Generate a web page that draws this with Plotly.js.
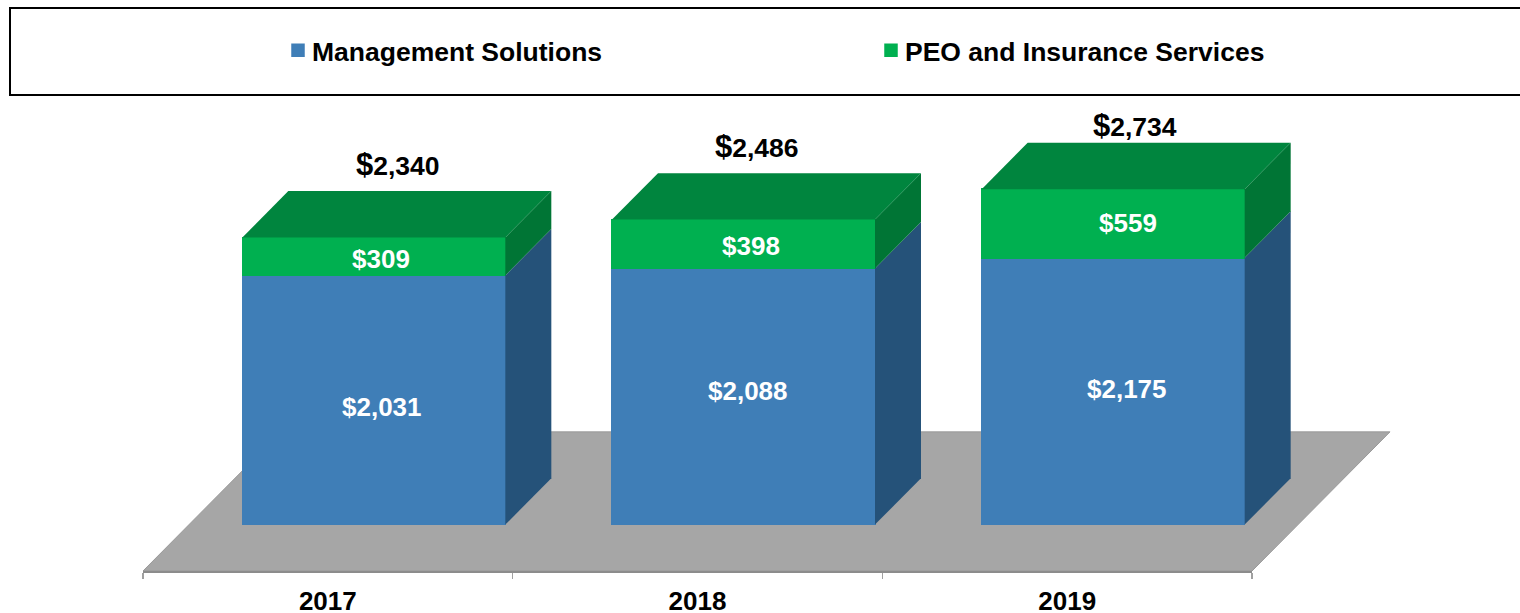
<!DOCTYPE html>
<html>
<head>
<meta charset="utf-8">
<script src="https://cdn.plot.ly/plotly-3.0.1.min.js"></script>
<style>html,body{margin:0;padding:0;background:#fff}#c{width:1520px;height:613px}</style>
</head>
<body>
<div id="c"></div>
<script>
const years = ['2017', '2018', '2019'];
const management = [2031, 2088, 2175];
const peo = [309, 398, 559];
const seriesNames = ['Management Solutions', 'PEO and Insurance Services'];
const mgmtNudge = [[8.5, 6.5], [4, -6], [13.5, -2.5]];
const peoNudge = [[7.5, 3], [7, 1.5], [14.5, -0.5]];
const totalNudge = [[24.5, -73], [13.5, -73], [22, -64]];

const W = 1520, H = 613, bottomMargin = 42;
const axisLeft = 143, axisRight = 1252;
const xUnit = (axisRight - axisLeft) / 3;
const yUnit = 0.1227;
const depthX = 46 / xUnit, depthY = 378;
const barWidth = 263 / xUnit;
const plotH = H - bottomMargin;
const xRange = [-axisLeft / xUnit, (W - axisLeft) / xUnit];
const yRange = [-depthY, plotH / yUnit - depthY];

const colors = {
  blue: '#3F7EB7', blueSide: '#255279',
  green: '#00B050', greenTop: '#00853E', greenSide: '#007535',
  floor: '#A6A6A6'
};
const fmt = v => '$' + v.toLocaleString('en-US');
const totals = management.map((v, i) => v + peo[i]);
const centers = years.map((_, i) => i + 0.5 + depthX);

function face(xs, ys, color) {
  return {x: xs, y: ys, type: 'scatter', mode: 'lines', fill: 'toself', fillcolor: color,
          line: {width: 0, color: color}, showlegend: false, hoverinfo: 'skip'};
}

const traces = [
  {type: 'bar', name: seriesNames[0], x: centers, y: management, width: barWidth,
   marker: {color: colors.blue, line: {color: colors.blue, width: 1.5}}, hoverinfo: 'skip'},
  {type: 'bar', name: seriesNames[1], x: centers, y: peo, width: barWidth,
   marker: {color: colors.green, line: {color: colors.green, width: 1.5}}, hoverinfo: 'skip'}
];
centers.forEach((c, i) => {
  const r = c + barWidth / 2, l = c - barWidth / 2;
  const m = management[i], t = totals[i];
  traces.push(face([r, r + depthX, r + depthX, r, r], [0, depthY, m + depthY, m, 0], colors.blueSide));
  traces.push(face([r, r + depthX, r + depthX, r, r], [m, m + depthY, t + depthY, t, m], colors.greenSide));
  traces.push(face([l, r, r + depthX, l + depthX, l], [t, t, t + depthY, t + depthY, t], colors.greenTop));
});
traces.push({type: 'scatter', mode: 'none', x: [0], y: [0], xaxis: 'x2', yaxis: 'y',
             showlegend: false, hoverinfo: 'skip'});

const annotations = [];
const note = (x, y, text, nudge, font) => annotations.push({
  x, y, text, xref: 'x', yref: 'y', showarrow: false, xanchor: 'center', yanchor: 'middle',
  xshift: nudge[0], yshift: -nudge[1], font
});
const whiteFont = {family: 'Liberation Sans, Arial, sans-serif', size: 26, color: '#fff', weight: 700};
const blackFont = {family: 'Liberation Sans, Arial, sans-serif', size: 26.5, color: '#000', weight: 700};
centers.forEach((c, i) => {
  note(c, management[i] / 2, '<b>' + fmt(management[i]) + '</b>', mgmtNudge[i], whiteFont);
  note(c, management[i] + peo[i] / 2, '<b>' + fmt(peo[i]) + '</b>', peoNudge[i], whiteFont);
  note(c, totals[i], '<b><span style="font-size:31px;font-weight:bold">$</span>' + fmt(totals[i]).slice(1) + '</b>', totalNudge[i], blackFont);
});

const floorPath = (() => {
  const back = 3 * depthX, yF = -depthY, yB = 2 * depthY;
  return `M 0 ${yF} L 3 ${yF} L ${3 + back} ${yB} L ${back} ${yB} Z`;
})();

const layout = {
  width: W, height: H, autosize: false,
  margin: {l: 0, r: 0, t: 0, b: bottomMargin, pad: 0, autoexpand: false},
  paper_bgcolor: '#fff', plot_bgcolor: 'rgba(0,0,0,0)',
  barmode: 'stack', bargap: 0,
  font: {family: 'Liberation Sans, Arial, sans-serif'},
  xaxis: {range: xRange, visible: false, fixedrange: true},
  xaxis2: {
    domain: [axisLeft / W, axisRight / W], range: [0, 3], anchor: 'y', fixedrange: true,
    showgrid: false, zeroline: false, showline: true, linecolor: '#8C8C8C', linewidth: 2,
    tickmode: 'array', tickvals: years.map((_, i) => i + 0.5), ticktext: years, ticks: '',
    ticklabelstandoff: 6,
    tickfont: {family: 'Liberation Sans, Arial, sans-serif', size: 26, color: '#000', weight: 700},
    minor: {tickmode: 'array', tickvals: [0, 1, 2, 3], ticks: 'outside', ticklen: 6, tickwidth: 1.5, tickcolor: '#A0A0A0', showgrid: false}
  },
  yaxis: {range: yRange, visible: false, fixedrange: true},
  legend: {
    orientation: 'h', x: 278 / W, xanchor: 'left', y: 1 - 50.5 / plotH, yanchor: 'middle',
    entrywidth: 548, entrywidthmode: 'pixels', bgcolor: 'rgba(0,0,0,0)', borderwidth: 0,
    font: {family: 'Liberation Sans, Arial, sans-serif', size: 26.5, color: '#000', weight: 700},
    traceorder: 'normal', itemclick: false, itemdoubleclick: false
  },
  shapes: [
    {type: 'path', xref: 'x', yref: 'y', path: floorPath, layer: 'below',
     fillcolor: colors.floor, line: {color: '#999999', width: 1}},
    {type: 'rect', xref: 'paper', yref: 'paper', x0: 10 / W, x1: 1540 / W,
     y0: 1 - 95 / plotH, y1: 1 - 8 / plotH, fillcolor: 'rgba(0,0,0,0)', layer: 'below',
     line: {color: '#000', width: 2}}
  ],
  annotations
};
Plotly.newPlot('c', traces, layout, {displayModeBar: false, staticPlot: true}).then(gd => {
  gd.querySelectorAll('.legendtext').forEach(t => t.setAttribute('x', +t.getAttribute('x') - 6));
});
</script>
</body>
</html>
